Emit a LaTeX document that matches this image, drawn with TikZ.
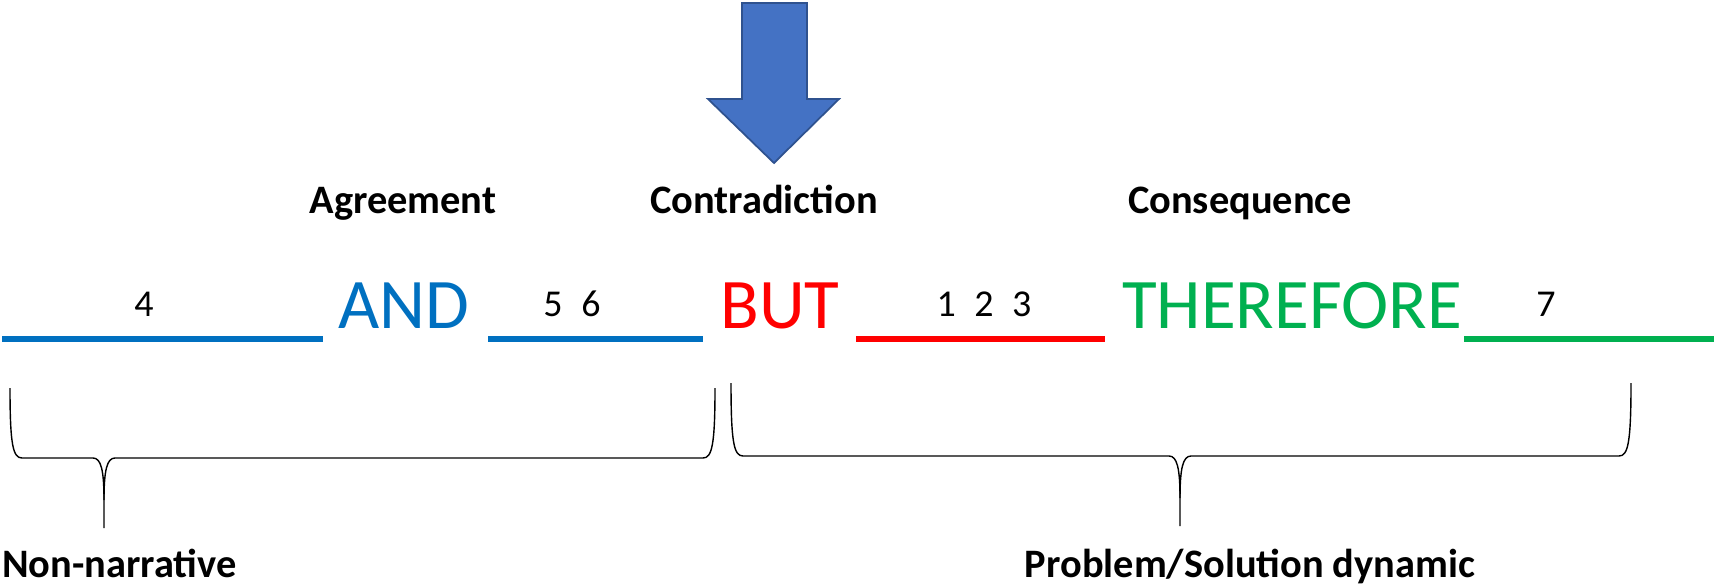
\documentclass[tikz,border=0pt]{standalone}
\usepackage{fontspec}
\setmainfont{Carlito}
\usetikzlibrary{positioning}
\definecolor{andblue}{HTML}{0070C0}
\definecolor{butred}{HTML}{FF0000}
\definecolor{thfgreen}{HTML}{00B050}
\definecolor{arrfill}{HTML}{4472C4}
\definecolor{arrline}{HTML}{2F528F}
\tikzset{
	header/.style = {anchor=base, inner sep=0pt, font=\fontsize{23}{27}\selectfont\bfseries},
	bigword/.style = {anchor=base, inner sep=0pt, font=\fontsize{40.5}{48}\selectfont},
	num/.style = {anchor=base, inner sep=0pt, font=\fontsize{21.6}{26}\selectfont},
	blank/.style = {line width=3pt},
	downarrow/.style = {fill=arrfill, draw=arrline, line width=1pt},
	pics/curly/.style n args={5}{code={
			\draw [black, line width=0.8pt]
			(#1,#4) .. controls (#1,{#5-13}) and ({#1+3},#5) .. ({#1+12},#5) --
			({#3-11},#5) .. controls ({#3-3},#5) and (#3,{#5+12}) .. (#3,{#5+42}) -- (#3,{#5+70});
			\draw [black, line width=0.8pt]
			(#3,{#5+42}) .. controls (#3,{#5+12}) and ({#3+3},#5) .. ({#3+11},#5) --
			({#2-12},#5) .. controls ({#2-3},#5) and (#2,{#5-13}) .. (#2,#4);
		}}
}

\begin{document}
\begin{tikzpicture}[x=0.02cm, y=-0.02cm]
		\useasboundingbox (0,0) rectangle (1716,585);
		\draw [downarrow] (742,3) -- (807,3) -- (807,99) -- (839,99) -- (774,163) -- (708,99) -- (742,99) -- cycle;
		\node[header] (agree) at (403,213) {Agreement};
		\node[header] (contra) at (764,213) {Contradiction};
		\node[header] (conseq) at (1240,213) {Consequence};
		\node[bigword, text=andblue] (wand) at (404,328) {AND};
		\node[bigword, text=butred] (wbut) at (780,328) {BUT};
		\node[bigword, text=thfgreen] (wthf) at (1292,328) {THEREFORE};
		\node[num] (nfour) at (144,316) {4};
		\node[num] (nfivesix) at (572,316) {5\hspace{0.49em}6};
		\node[num] (nonetwothree) at (984,316) {1\hspace{0.49em}2\hspace{0.49em}3};
		\node[num] (nseven) at (1546,316) {7};
		\draw [blank, andblue] (2,339) -- (323,339);
		\draw [blank, andblue] (488,339) -- (703,339);
		\draw [blank, butred] (856,339) -- (1105,339);
		\draw [blank, thfgreen] (1464,339) -- (1714,339);
		\pic {curly={10}{715}{104}{388}{458}};
		\pic {curly={731}{1631}{1180}{383}{456}};
		\node[header, anchor=base west] (nonnarr) at (2,577) {Non-narrative};
		\node[header] (probsol) at (1250,577) {Problem/Solution dynamic};
	\end{tikzpicture}
\end{document}
